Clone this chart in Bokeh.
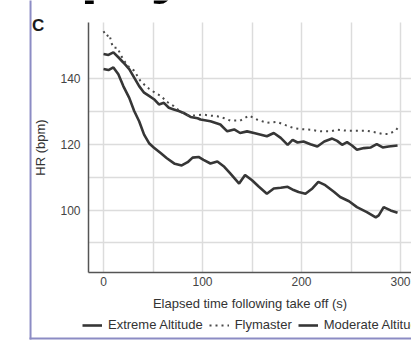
from bokeh.plotting import figure
from bokeh.models import Range1d, FixedTicker, Legend, LegendItem, Label, BoxAnnotation, Grid
from bokeh.embed import file_html
from bokeh.resources import INLINE

# ---- data ----
ext_t = [0, 5, 10, 15, 20, 26, 31, 36, 41, 46, 51, 56, 61, 66, 71, 76, 81, 88, 95, 98,
         108, 118, 125, 132, 138, 145, 152, 159, 165, 172, 179, 186, 191, 196, 202, 209,
         216, 223, 231, 236, 241, 246, 251, 256, 263, 270, 276, 282, 288, 297]
ext_hr = [147.6, 147.3, 148.1, 146.6, 145.0, 143.0, 140.4, 137.8, 135.8, 134.8, 133.8, 132.2,
          132.7, 131.2, 130.7, 130.2, 129.6, 128.4, 128.0, 127.6, 127.1, 126.1, 124.0, 124.6,
          123.5, 124.0, 123.5, 123.0, 122.5, 123.5, 122.0, 119.9, 121.4, 120.6, 120.9, 120.1,
          119.4, 120.9, 121.8, 121.1, 119.9, 120.7, 119.7, 118.4, 118.9, 119.1, 120.1, 119.1,
          119.4, 119.7]

fly_t = [0, 3, 6, 8, 10, 14, 18, 22, 26, 31, 37, 42, 46, 52, 58, 64, 71, 78, 84, 90, 101,
         108, 115, 122, 128, 138, 147, 155, 165, 175, 182, 192, 199, 209, 219, 229, 236, 246,
         256, 266, 273, 282, 288, 295, 297]
fly_hr = [154.5, 153.0, 153.5, 151.0, 149.5, 149.5, 147.0, 145.0, 143.5, 142.5, 139.5, 138.0,
          137.0, 135.8, 134.8, 133.0, 131.7, 130.0, 129.0, 128.8, 129.1, 128.8, 128.6, 128.0,
          127.3, 127.3, 128.8, 127.6, 126.6, 126.9, 126.1, 125.0, 124.7, 124.5, 124.0, 124.0,
          124.5, 124.2, 124.2, 124.2, 123.8, 123.2, 123.2, 124.2, 125.0]

mod_t = [0, 5, 10, 15, 20, 26, 31, 36, 41, 46, 51, 58, 64, 72, 79, 85, 90, 96, 101, 108, 115,
         122, 128, 137, 143, 150, 157, 165, 172, 179, 186, 192, 197, 204, 211, 217, 224, 233,
         239, 248, 256, 266, 275, 278, 283, 290, 297]
mod_hr = [143.0, 142.7, 143.5, 141.4, 137.8, 134.2, 130.2, 127.1, 123.0, 120.4, 119.0, 117.3,
          115.8, 114.1, 113.6, 114.6, 116.0, 116.2, 115.3, 114.2, 114.8, 113.2, 111.2, 108.1,
          110.7, 109.1, 107.1, 105.0, 106.6, 106.8, 107.1, 106.1, 105.5, 105.0, 106.6, 108.6,
          107.6, 105.5, 104.0, 102.7, 100.9, 99.4, 97.8, 98.4, 100.9, 99.9, 99.2]

x_ticks = [0, 100, 200, 300]
x_grid = [0, 50, 100, 150, 200, 250, 300]
y_ticks = [100, 120, 140]
y_grid = [90, 100, 110, 120, 130, 140]

# plot-area extent in data units (axes drawn at these fixed locations)
X_MIN, X_MAX = -15.15, 311.1
Y_MIN, Y_MAX = 80.98, 157.2

FONT = "Liberation Sans"
TXT = "#444444"
LINE = "#363636"
GRID = "#dcdcdc"

# the frame fills the whole canvas; axes are placed at fixed data locations
p = figure(width=411, height=340, output_backend="svg", toolbar_location=None,
           x_range=Range1d(-104.04, 311.1), y_range=Range1d(60.24, 163.9),
           min_border=0)
p.outline_line_color = None
p.background_fill_color = "white"
p.border_fill_color = "white"

# grids
has_cross = "cross_bounds" in Grid.properties()
if has_cross:
    p.xgrid.ticker = FixedTicker(ticks=x_grid)
    p.ygrid.ticker = FixedTicker(ticks=y_grid)
    p.xgrid.bounds = (X_MIN, X_MAX)
    p.xgrid.cross_bounds = (Y_MIN, Y_MAX)
    p.ygrid.bounds = (Y_MIN, Y_MAX)
    p.ygrid.cross_bounds = (X_MIN, X_MAX)
    for g in (p.xgrid, p.ygrid):
        g.grid_line_color = GRID
        g.grid_line_width = 1.5
else:
    p.xgrid.visible = False
    p.ygrid.visible = False
    p.segment(x0=x_grid, y0=[Y_MIN] * len(x_grid), x1=x_grid, y1=[Y_MAX] * len(x_grid),
              line_color=GRID, line_width=1.5)
    p.segment(x0=[X_MIN] * len(y_grid), y0=y_grid, x1=[X_MAX] * len(y_grid), y1=y_grid,
              line_color=GRID, line_width=1.5)

# axes
xa, ya = p.xaxis[0], p.yaxis[0]
xa.fixed_location = Y_MIN
ya.fixed_location = X_MIN
xa.bounds = (X_MIN, X_MAX)
ya.bounds = (Y_MIN, Y_MAX)
xa.ticker = FixedTicker(ticks=x_ticks)
ya.ticker = FixedTicker(ticks=y_ticks)
for ax in (xa, ya):
    ax.axis_line_color = "#555555"
    ax.axis_line_width = 1.5
    ax.major_tick_line_color = None
    ax.minor_tick_line_color = None
    ax.major_tick_out = 0
    ax.major_tick_in = 0
    ax.minor_tick_out = 0
    ax.minor_tick_in = 0
    ax.major_label_text_font = FONT
    ax.major_label_text_font_size = "12px"
    ax.major_label_text_color = TXT
    ax.axis_label_text_font = FONT
    ax.axis_label_text_font_size = "13px"
    ax.axis_label_text_font_style = "normal"
    ax.axis_label_text_color = "#333333"
xa.axis_label = "Elapsed time following take off (s)"
ya.axis_label = "HR (bpm)"
xa.major_label_standoff = 5
xa.axis_label_standoff = 6
ya.major_label_standoff = 8
ya.axis_label_standoff = 9

r_ext = p.line(ext_t, ext_hr, line_color=LINE, line_width=2.6)
r_fly = p.line(fly_t, fly_hr, line_color="#4a4a4a", line_width=2.0, line_dash="2 4")
r_mod = p.line(mod_t, mod_hr, line_color=LINE, line_width=2.6)

legend = Legend(items=[LegendItem(label="Extreme Altitude", renderers=[r_ext]),
                       LegendItem(label="Flymaster", renderers=[r_fly]),
                       LegendItem(label="Moderate Altitude", renderers=[r_mod])],
                orientation="horizontal", location=(82, 8),
                padding=0, margin=0, spacing=6, glyph_width=20, glyph_height=12,
                label_height=12, label_standoff=6,
                label_text_font=FONT, label_text_font_size="13px", label_text_color="#333333",
                border_line_color=None, background_fill_alpha=0)
p.add_layout(legend, "center")

# panel letter and cropped heading (positions by text middle)
p.add_layout(Label(x=-72.2, y=156.3, text="C", text_font=FONT, text_font_size="17px",
                   text_font_style="bold", text_color="#1a1a1a", text_baseline="middle"))
p.add_layout(Label(x=-23.2, y=173.6, text="p", text_font=FONT, text_font_size="64px",
                   text_font_style="bold", text_color="black", text_baseline="middle"))
p.add_layout(Label(x=47.5, y=173.6, text="y", text_font=FONT, text_font_size="64px",
                   text_font_style="bold", text_color="black", text_baseline="middle"))

# purple frame edges (left and bottom)
p.add_layout(BoxAnnotation(left=-74.7, right=-72.7, bottom=60.55, top=170,
                           fill_color="#8c8cc4", fill_alpha=1.0, line_color=None))
p.add_layout(BoxAnnotation(left=-74.7, right=320, bottom=60.55, top=61.16,
                           fill_color="#8c8cc4", fill_alpha=1.0, line_color=None))

open("out.html", "w").write(file_html(p, INLINE))
